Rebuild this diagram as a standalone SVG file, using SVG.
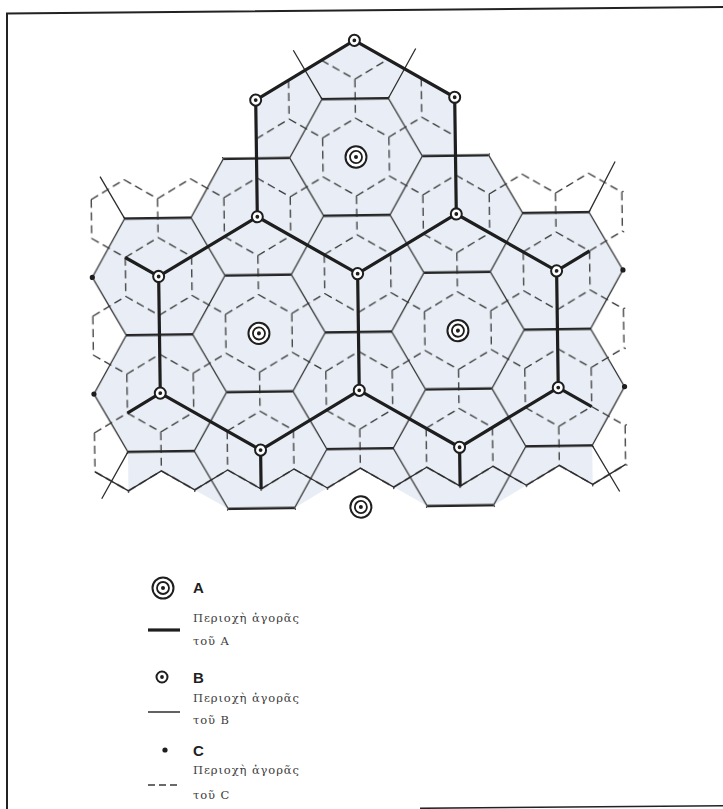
<svg xmlns="http://www.w3.org/2000/svg" width="723" height="809" viewBox="0 0 723 809">
<style>
.dash{fill:none;stroke:#3a3a3a;stroke-width:1.3;stroke-dasharray:8 4.6}
.thin{fill:none;stroke:#2e2e2e;stroke-width:1.3;stroke-linejoin:round}
.hz{fill:none;stroke:#262626;stroke-width:2.6}
.thick{fill:none;stroke:#1e1e1e;stroke-width:3.2;stroke-linejoin:round}
.tint{fill:#e9eef6}
.lbl{font-family:"Liberation Sans",Arial,sans-serif;font-weight:bold;font-size:15px;fill:#1e1e1e}
.gr{font-family:"DejaVu Serif","Liberation Serif",serif;font-size:11.5px;fill:#3c3c3c;letter-spacing:0.9px}
</style>
<defs>
<pattern id="pc" patternUnits="userSpaceOnUse" x="16.583" y="38.298" width="66.333" height="114.894">
<path class="dash" d="M49.75,0V38.3M-16.58,38.3L16.58,57.45M16.58,57.45L49.75,38.3M49.75,38.3L82.92,57.45M16.58,57.45V95.75M-16.58,114.89L16.58,95.75M16.58,95.75L49.75,114.89M49.75,114.89L82.92,95.75"/>
</pattern>
<pattern id="pb" patternUnits="userSpaceOnUse" x="0" y="28.723" width="199" height="114.894">
<path class="thin" d="M33.17,-86.17L66.33,-28.72L33.17,28.72L66.33,86.17L33.17,143.62M165.83,-86.17L132.67,-28.72L165.83,28.72L132.67,86.17L165.83,143.62"/>
<path class="hz" d="M-33.17,28.72H33.17M165.83,28.72H232.17M66.33,86.17H132.67"/>
</pattern>
<polygon id="bh" points="68.6,0 34.3,59.41 -34.3,59.41 -68.6,0 -34.3,-59.41 34.3,-59.41"/>
<polygon id="ch" points="0,-40.6 35.16,-20.3 35.16,20.3 0,40.6 -35.16,20.3 -35.16,-20.3"/>
<clipPath id="clipB">
<use href="#bh" x="0" y="0"/><use href="#bh" x="-99.5" y="57.45"/><use href="#bh" x="99.5" y="57.45"/>
<use href="#bh" x="-199" y="114.89"/><use href="#bh" x="0" y="114.89"/><use href="#bh" x="199" y="114.89"/>
<use href="#bh" x="-99.5" y="172.34"/><use href="#bh" x="99.5" y="172.34"/>
<use href="#bh" x="-199" y="229.79"/><use href="#bh" x="0" y="229.79"/><use href="#bh" x="199" y="229.79"/>
<use href="#bh" x="-99.5" y="287.24"/><use href="#bh" x="99.5" y="287.24"/>
</clipPath>
<clipPath id="clipC">
<polygon points="0,-114.89 99.5,-57.45 99.5,57.45 0,114.89 -99.5,57.45 -99.5,-57.45"/>
<use href="#ch" x="-232.17" y="57.45"/><use href="#ch" x="-165.83" y="57.45"/><use href="#ch" x="-99.5" y="57.45"/><use href="#ch" x="-33.17" y="57.45"/><use href="#ch" x="33.17" y="57.45"/><use href="#ch" x="99.5" y="57.45"/><use href="#ch" x="165.83" y="57.45"/><use href="#ch" x="232.17" y="57.45"/>
<use href="#ch" x="-199" y="114.89"/><use href="#ch" x="-132.67" y="114.89"/><use href="#ch" x="-66.33" y="114.89"/><use href="#ch" x="0" y="114.89"/><use href="#ch" x="66.33" y="114.89"/><use href="#ch" x="132.67" y="114.89"/><use href="#ch" x="199" y="114.89"/>
<use href="#ch" x="-232.17" y="172.34"/><use href="#ch" x="-165.83" y="172.34"/><use href="#ch" x="-99.5" y="172.34"/><use href="#ch" x="-33.17" y="172.34"/><use href="#ch" x="33.17" y="172.34"/><use href="#ch" x="99.5" y="172.34"/><use href="#ch" x="165.83" y="172.34"/><use href="#ch" x="232.17" y="172.34"/>
<use href="#ch" x="-199" y="229.79"/><use href="#ch" x="-132.67" y="229.79"/><use href="#ch" x="-66.33" y="229.79"/><use href="#ch" x="0" y="229.79"/><use href="#ch" x="66.33" y="229.79"/><use href="#ch" x="132.67" y="229.79"/><use href="#ch" x="199" y="229.79"/>
<use href="#ch" x="-232.17" y="287.24"/><use href="#ch" x="-165.83" y="287.24"/><use href="#ch" x="-99.5" y="287.24"/><use href="#ch" x="-33.17" y="287.24"/><use href="#ch" x="33.17" y="287.24"/><use href="#ch" x="99.5" y="287.24"/><use href="#ch" x="165.83" y="287.24"/><use href="#ch" x="232.17" y="287.24"/>
</clipPath>
<g id="symA"><circle r="10.5" fill="#fff" stroke="#1e1e1e" stroke-width="2"/><circle r="6" fill="none" stroke="#1e1e1e" stroke-width="1.8"/><circle r="2" fill="#1e1e1e"/></g>
<g id="symB"><circle r="5.5" fill="#fff" stroke="#1e1e1e" stroke-width="2"/><circle r="1.9" fill="#1e1e1e"/></g>
</defs>
<rect width="723" height="809" fill="#fff"/>
<g id="frame" fill="none" stroke="#222">
<path d="M7,809V13.5L723,7" stroke-width="2"/>
<path d="M420,808.3L723,805.8" stroke-width="1.5"/>
</g>
<g id="lattice" transform="rotate(-0.8 358 300) translate(358 157) scale(1 1.0155)">
<g id="tint">
<path class="tint" d="M-33.17,-57.45L33.17,-57.45L66.33,0L132.67,0L165.83,57.45L232.17,57.45L265.33,114.89L232.17,172.34L265.33,229.79L232.17,287.24L232.17,325.54L199,306.39L165.83,325.54L132.67,344.68L66.33,344.68L33.17,325.54L0,306.39L-33.17,325.54L-66.33,344.68L-132.67,344.68L-165.83,325.54L-199,306.39L-232.17,325.54L-232.17,287.24L-265.33,229.79L-232.17,172.34L-265.33,114.89L-232.17,57.45L-165.83,57.45L-132.67,0L-66.33,0Z"/>
<path class="tint" d="M0,-114.89L99.5,-57.45L99.5,57.45L0,114.89L-99.5,57.45L-99.5,-57.45Z"/>
</g>
<g id="connectors">
<rect id="areas-C" x="-300" y="-130" width="600" height="500" fill="url(#pc)" clip-path="url(#clipC)"/>
<rect id="areas-B" x="-300" y="-130" width="600" height="500" fill="url(#pb)" clip-path="url(#clipB)"/>
<path id="edge-lines" class="thin" d="M-265.33,306.39L-232.17,325.54L-199,306.39L-165.83,325.54L-132.67,306.39L-99.5,325.54L-66.33,306.39L-33.17,325.54L0,306.39L33.17,325.54L66.33,306.39L99.5,325.54L132.67,306.39L165.83,325.54L199,306.39L232.17,325.54L265.33,306.39M-33.17,-57.45L-61.2,-106M33.17,-57.45L61.2,-106M-232.17,57.45L-256.2,15.8M232.17,57.45L259,8M-232.17,287.24L-259,333M232.17,287.24L259,333"/>
<path id="areas-A" class="thick" d="M0,-114.89L99.5,-57.45L99.5,57.45L0,114.89L-99.5,57.45L-99.5,-57.45ZM-99.5,57.45L-199,114.89L-199,229.79L-99.5,287.24L0,229.79L99.5,287.24L199,229.79L199,114.89L99.5,57.45M0,114.89V229.79M-99.5,287.24V325.54M99.5,287.24V325.54M-199,114.89L-232.17,95.74M199,114.89L232.17,95.74M-199,229.79L-232.17,248.94M199,229.79L232.17,248.94"/>
</g>
<g id="centers-C" fill="#1e1e1e">
<circle cx="-265.33" cy="114.89" r="2.6"/><circle cx="265.33" cy="114.89" r="2.6"/><circle cx="-265.33" cy="229.79" r="2.6"/><circle cx="265.33" cy="229.79" r="2.6"/>
</g>
<g id="centers-B">
<use href="#symB" x="0" y="-114.89"/><use href="#symB" x="-99.5" y="-57.45"/><use href="#symB" x="99.5" y="-57.45"/>
<use href="#symB" x="-99.5" y="57.45"/><use href="#symB" x="99.5" y="57.45"/>
<use href="#symB" x="-199" y="114.89"/><use href="#symB" x="0" y="114.89"/><use href="#symB" x="199" y="114.89"/>
<use href="#symB" x="-199" y="229.79"/><use href="#symB" x="0" y="229.79"/><use href="#symB" x="199" y="229.79"/>
<use href="#symB" x="-99.5" y="287.24"/><use href="#symB" x="99.5" y="287.24"/>
</g>
<g id="centers-A">
<use href="#symA" x="0" y="0"/><use href="#symA" x="-99.5" y="172.34"/><use href="#symA" x="99.5" y="172.34"/><use href="#symA" x="0" y="344.68"/>
</g>
</g>
<g id="legend">
<g id="legend-A"><use href="#symA" x="163" y="588"/><text class="lbl" x="193" y="593">A</text></g>
<g id="legend-areaA"><line x1="148" y1="630" x2="180" y2="630" stroke="#1e1e1e" stroke-width="3.2"/><text class="gr" x="193" y="622">Περιοχὴ ἀγορᾶς</text><text class="gr" x="193" y="645">τοῦ A</text></g>
<g id="legend-B"><use href="#symB" x="162" y="677"/><text class="lbl" x="193" y="683">B</text></g>
<g id="legend-areaB"><line x1="148" y1="712" x2="180" y2="712" stroke="#2e2e2e" stroke-width="1.5"/><text class="gr" x="193" y="702">Περιοχὴ ἀγορᾶς</text><text class="gr" x="193" y="724">τοῦ B</text></g>
<g id="legend-C"><circle cx="165" cy="750" r="2.6" fill="#1e1e1e"/><text class="lbl" x="193" y="756">C</text></g>
<g id="legend-areaC"><line x1="148" y1="785" x2="180" y2="785" stroke="#3a3a3a" stroke-width="1.3" stroke-dasharray="7 4"/><text class="gr" x="193" y="774">Περιοχὴ ἀγορᾶς</text><text class="gr" x="193" y="799">τοῦ C</text></g>
</g>
</svg>
